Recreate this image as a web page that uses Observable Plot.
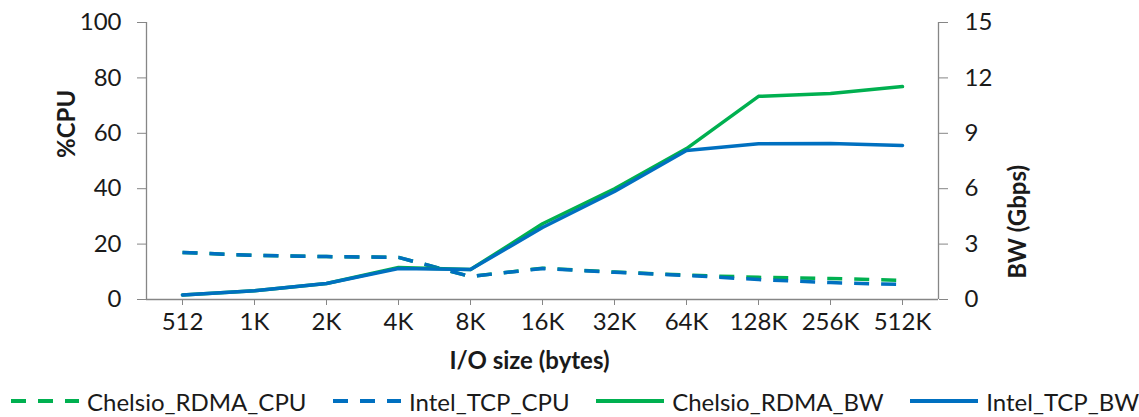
<!DOCTYPE html>
<html><head><meta charset="utf-8">
<script src="https://cdn.jsdelivr.net/npm/d3@7"></script>
<script src="https://cdn.jsdelivr.net/npm/@observablehq/plot@0.6"></script>
<style>
body{margin:0;background:#fff;font-family:Lato,"Open Sans",sans-serif;color:#1a1a1a;}
#chart svg{overflow:visible;}
#legend{display:flex;justify-content:space-between;align-items:center;width:1139px;height:32px;box-sizing:border-box;padding-left:11px;font-size:24px;}
.item{display:flex;align-items:center;white-space:nowrap;}
.item svg{margin-right:8px;}
</style></head><body>
<div id="chart"></div>
<div id="legend"></div>
<script>
// ---- data ----
const sizes = ["512","1K","2K","4K","8K","16K","32K","64K","128K","256K","512K"];
const chelsioCPU = [17.0, 15.9, 15.5, 15.2, 8.3, 11.3, 9.9, 8.8, 8.0, 7.6, 6.9];
const intelCPU   = [17.0, 15.9, 15.5, 15.2, 8.3, 11.2, 9.8, 8.7, 7.2, 6.1, 5.4];
const chelsioBW  = [0.25, 0.48, 0.87, 1.73, 1.62, 4.1, 6.0, 8.17, 11.0, 11.15, 11.53];
const intelBW    = [0.25, 0.48, 0.87, 1.68, 1.62, 3.9, 5.85, 8.07, 8.43, 8.45, 8.34];
const cpuTicks = [0, 20, 40, 60, 80, 100];
const bwTicks = [0, 3, 6, 9, 12, 15];
const seriesNames = ["Chelsio_RDMA_CPU","Intel_TCP_CPU","Chelsio_RDMA_BW","Intel_TCP_BW"];

// ---- styling ----
const GREEN = "#00B050", BLUE = "#0070C0", AXIS = "#868686";
const W = 1139, H = 385, mL = 146, mR = 201, mT = 22, mB = 86;
const FS = 24;
const CPU_MAX = 100, BW_MAX = 15;
const bwToCpu = v => v * CPU_MAX / BW_MAX;
const styles = {
  "Chelsio_RDMA_CPU": {color: GREEN, dash: "15,12"},
  "Intel_TCP_CPU": {color: BLUE, dash: "15,12"},
  "Chelsio_RDMA_BW": {color: GREEN, dash: null},
  "Intel_TCP_BW": {color: BLUE, dash: null}
};
const seriesValues = {
  "Chelsio_RDMA_CPU": chelsioCPU,
  "Intel_TCP_CPU": intelCPU,
  "Chelsio_RDMA_BW": chelsioBW.map(bwToCpu),
  "Intel_TCP_BW": intelBW.map(bwToCpu)
};
const halfStep = (W - mL - mR) / sizes.length / 2;

const lineMarks = seriesNames.map(name => {
  const data = sizes.map((s, i) => ({size: s, v: seriesValues[name][i]}));
  const st = styles[name];
  return Plot.line(data, {x: "size", y: "v", stroke: st.color, strokeWidth: 3.5,
    strokeDasharray: st.dash || undefined, strokeLinejoin: "round", strokeLinecap: st.dash ? "butt" : "round"});
});

const chart = Plot.plot({
  width: W, height: H, marginLeft: mL, marginRight: mR, marginTop: mT, marginBottom: mB,
  style: {fontFamily: "Lato, 'Open Sans', sans-serif", fontSize: FS + "px", color: "#1a1a1a", background: "#fff"},
  x: {type: "point", domain: sizes, padding: 0.5},
  y: {domain: [0, CPU_MAX]},
  marks: [
    Plot.ruleX([sizes[0]], {dx: -halfStep, stroke: AXIS, strokeWidth: 1.3}),
    Plot.ruleX([sizes[sizes.length - 1]], {dx: halfStep, stroke: AXIS, strokeWidth: 1.3}),
    Plot.ruleY([0], {stroke: AXIS, strokeWidth: 1.3}),
    Plot.axisX({tickSize: 6, tickPadding: 7, stroke: AXIS, fill: "#1a1a1a", label: null, fontSize: FS}),
    Plot.axisY(cpuTicks, {anchor: "left", tickSize: 9, tickPadding: 16, stroke: AXIS, fill: "#1a1a1a", label: null, fontSize: FS}),
    Plot.axisY(bwTicks.map(bwToCpu), {anchor: "right", tickSize: 9, tickPadding: 17, stroke: AXIS, fill: "#1a1a1a", label: null, fontSize: FS,
      tickFormat: d => String(Math.round(d * BW_MAX / CPU_MAX))}),
    ...lineMarks,
    Plot.text(["%CPU"], {frameAnchor: "left", dx: -79, dy: -3, rotate: -90, fontWeight: "bold", fontSize: FS, fill: "#1a1a1a"}),
    Plot.text(["BW (Gbps)"], {frameAnchor: "right", dx: 80, dy: 4, rotate: -90, fontWeight: "bold", fontSize: FS, fill: "#1a1a1a"}),
    Plot.text(["I/O size (bytes)"], {frameAnchor: "bottom", dx: -13, dy: 69, fontWeight: "bold", fontSize: FS, fill: "#1a1a1a"})
  ]
});
document.getElementById("chart").appendChild(chart);

// ---- legend ----
const legend = d3.select("#legend");
seriesNames.forEach(name => {
  const st = styles[name];
  const item = legend.append("div").attr("class", "item");
  const svg = item.append("svg").attr("width", 68).attr("height", 8);
  svg.append("line").attr("x1", 0).attr("x2", 68).attr("y1", 4).attr("y2", 4)
    .attr("stroke", st.color).attr("stroke-width", 4)
    .attr("stroke-dasharray", st.dash);
  item.append("span").text(name);
});
</script>
</body></html>
